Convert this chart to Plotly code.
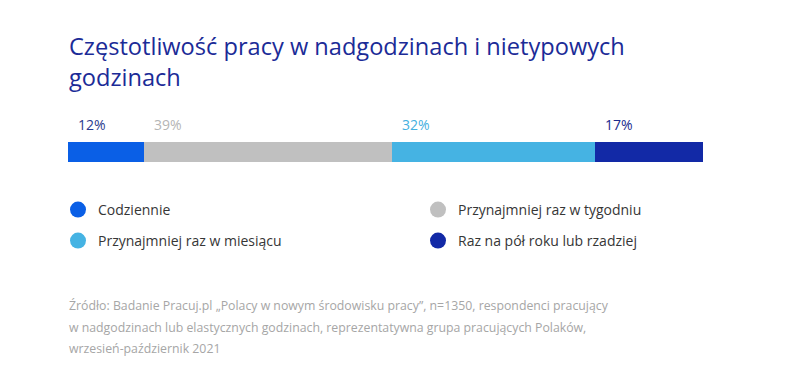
import plotly.graph_objects as go

categories = ["Codziennie", "Przynajmniej raz w tygodniu", "Przynajmniej raz w miesiącu", "Raz na pół roku lub rzadziej"]
values = [12, 39, 32, 17]
value_labels = ["12%", "39%", "32%", "17%"]
colors = ["#0a5fe6", "#c0c0c0", "#45b3e3", "#1229a6"]
label_colors = ["#2a3b8e", "#b5b5b5", "#45b0e0", "#1a2a8e"]

title_text = "Częstotliwość pracy w nadgodzinach i nietypowych<br>godzinach"
source_lines = [
    "Źródło: Badanie Pracuj.pl „Polacy w nowym środowisku pracy”, n=1350, respondenci pracujący",
    "w nadgodzinach lub elastycznych godzinach, reprezentatywna grupa pracujących Polaków,",
    "wrzesień-październik 2021",
]

W, H = 800, 377
FONT = "Open Sans"
OFF = 8  # page body margin


def px(x):
    return (x - OFF) / W


def py(y):
    return (H - (y - OFF)) / H


fig = go.Figure()
for cat, v, c in zip(categories, values, colors):
    fig.add_trace(go.Bar(x=[v], y=[0], orientation="h", marker=dict(color=c, line=dict(width=0)),
                         width=1, showlegend=False, hoverinfo="skip"))

# legend entries (circles), one legend each for a 2x2 grid
legend_ids = ["legend", "legend2", "legend3", "legend4"]
legend_pos = [(58, 210), (418, 210), (58, 241), (418, 241)]
for cat, c, lg in zip(categories, colors, legend_ids):
    fig.add_trace(go.Scatter(x=[None], y=[None], mode="markers", name=cat,
                             marker=dict(color=c, size=18, symbol="circle"),
                             legend=lg, showlegend=True))

annotations = []
start = 0
for v, lab, lc in zip(values, value_labels, label_colors):
    annotations.append(dict(x=start, y=py(125), xref="x", yref="paper", text=lab,
                            showarrow=False, xanchor="left", yanchor="middle", xshift=8,
                            font=dict(family=FONT, size=14, color=lc)))
    start += v

annotations.append(dict(x=px(67), y=py(61), xref="paper", yref="paper", text=title_text,
                        showarrow=False, xanchor="left", yanchor="middle", align="left",
                        font=dict(family=FONT, size=23.6, color="#1b2b97")))

for i, yy in enumerate([305, 327, 348]):
    annotations.append(dict(x=px(67), y=py(yy), xref="paper", yref="paper",
                            text=source_lines[i], showarrow=False, xanchor="left", yanchor="middle",
                            font=dict(family=FONT, size=12.3, color="#a6a6a6")))

legend_common = dict(orientation="v", xanchor="left", yanchor="middle",
                     font=dict(family=FONT, size=14, color="#363636"),
                     bgcolor="rgba(0,0,0,0)", itemsizing="trace")

layout_legends = {}
for lg, (lx, ly) in zip(legend_ids, legend_pos):
    layout_legends[lg] = dict(x=px(lx), y=py(ly), **legend_common)

fig.update_layout(
    width=W, height=H,
    margin=dict(l=0, r=0, t=0, b=0),
    paper_bgcolor="white", plot_bgcolor="white",
    barmode="stack",
    xaxis=dict(domain=[px(68), px(703)], range=[0, 100], visible=False, fixedrange=True),
    yaxis=dict(domain=[py(162), py(142)], range=[-0.5, 0.5], visible=False, fixedrange=True),
    annotations=annotations,
    **layout_legends,
)

fig.write_html("out.html")
